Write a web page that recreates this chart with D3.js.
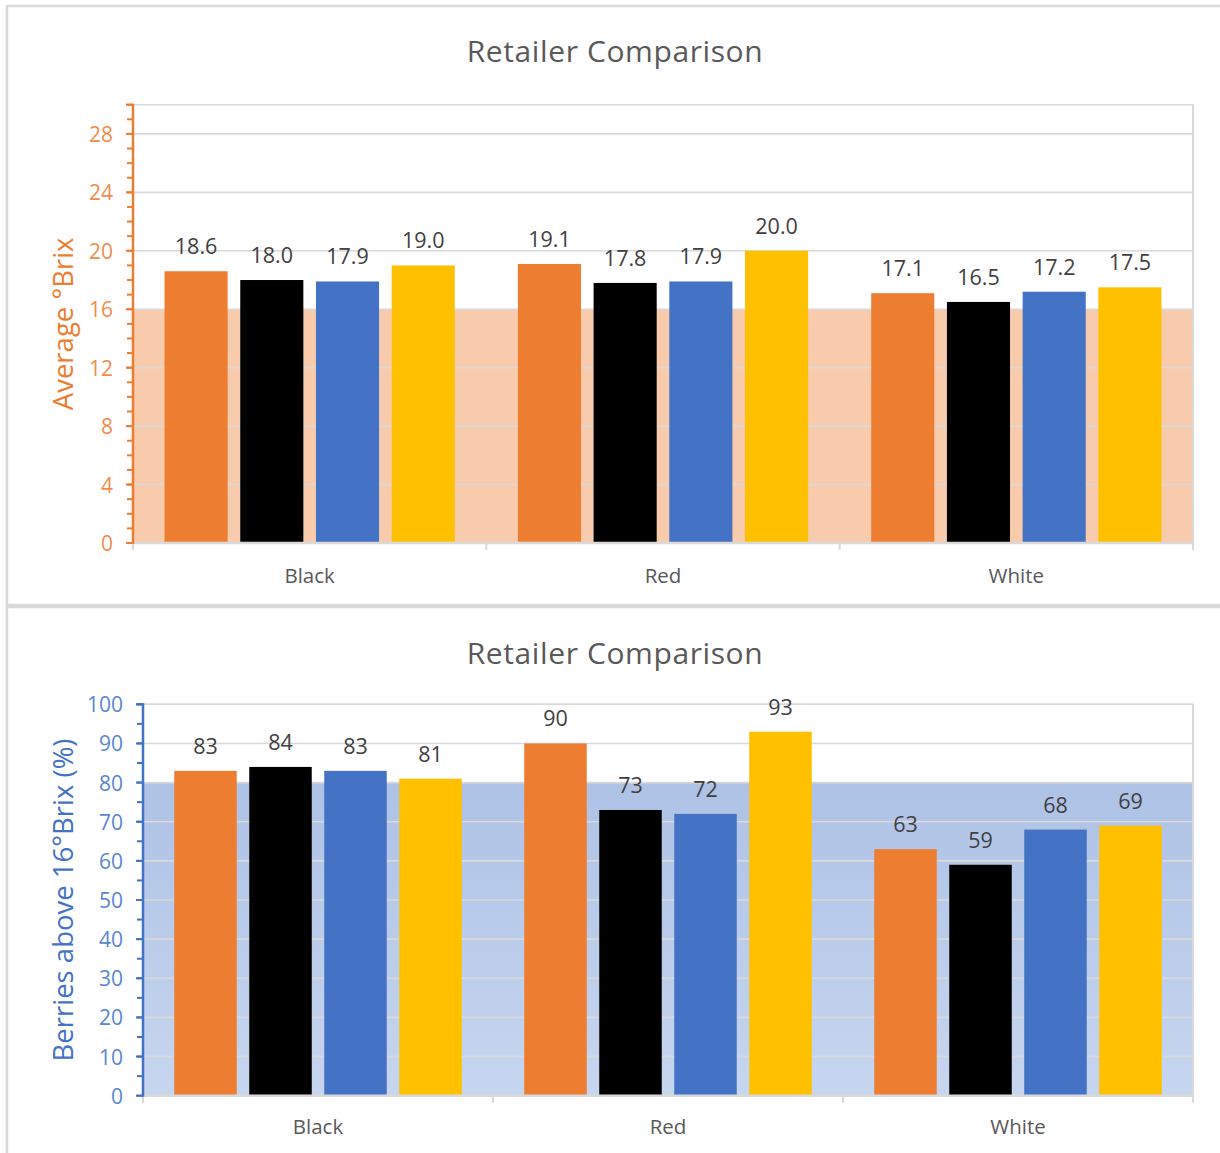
<!DOCTYPE html>
<html>
<head>
<meta charset="utf-8">
<script src="https://cdn.jsdelivr.net/npm/d3@7"></script>
<style>
  html, body { margin: 0; padding: 0; background: #fff; }
  svg { display: block; font-family: "Open Sans", "Noto Sans", sans-serif; }
</style>
</head>
<body>
<svg id="chart" width="1220" height="1153"></svg>
<script>
// Grape varieties and retailers
const categories = ["Black", "Red", "White"];
const retailers = ["Retailer A", "Retailer B", "Retailer C", "Retailer D"];
const retailerColors = ["#ED7D31", "#000000", "#4472C4", "#FFC000"];

// Average °Brix per variety, one value per retailer
const brixBlack = [18.6, 18.0, 17.9, 19.0];
const brixRed = [19.1, 17.8, 17.9, 20.0];
const brixWhite = [17.1, 16.5, 17.2, 17.5];

// Share of berries above 16 °Brix (%)
const pctBlack = [83, 84, 83, 81];
const pctRed = [90, 73, 72, 93];
const pctWhite = [63, 59, 68, 69];

// Axis ticks and threshold bands
const brixTicks = [0, 4, 8, 12, 16, 20, 24, 28];
const brixMax = 30;
const brixThreshold = 16;
const pctTicks = [0, 10, 20, 30, 40, 50, 60, 70, 80, 90, 100];
const pctMax = 100;
const pctThreshold = 80;

const svg = d3.select("#chart");
const grid = "#D9D9D9";

// Panel frames
svg.append("rect").attr("x", 7).attr("y", 6).attr("width", 1220).attr("height", 599)
  .attr("fill", "none").attr("stroke", grid).attr("stroke-width", 2.5);
svg.append("rect").attr("x", 7).attr("y", 607).attr("width", 1220).attr("height", 600)
  .attr("fill", "none").attr("stroke", grid).attr("stroke-width", 2.5);

function drawPanel(opt) {
  const g = svg.append("g");
  const x = d3.scaleBand().domain(categories).range([opt.left, opt.right]);
  const xs = d3.scaleBand().domain(retailers).range([0, x.bandwidth()])
    .paddingInner(1 / 6).paddingOuter(5 / 12);
  const y = d3.scaleLinear().domain([0, opt.max]).range([opt.bottom, opt.top]);

  // Threshold band
  const band = g.append("rect")
    .attr("x", opt.left).attr("width", opt.right - opt.left)
    .attr("y", y(opt.threshold)).attr("height", y(0) - y(opt.threshold));
  if (opt.bandGradient) {
    const id = "grad" + opt.key;
    const grad = svg.append("defs").append("linearGradient").attr("id", id)
      .attr("x1", 0).attr("y1", 0).attr("x2", 0).attr("y2", 1);
    grad.append("stop").attr("offset", "0%").attr("stop-color", opt.bandGradient[0]);
    grad.append("stop").attr("offset", "100%").attr("stop-color", opt.bandGradient[1]);
    band.attr("fill", `url(#${id})`);
  } else {
    band.attr("fill", opt.bandColor);
  }

  // Horizontal gridlines
  g.append("g").selectAll("line").data(opt.ticks.concat([opt.max])).join("line")
    .attr("x1", opt.left).attr("x2", opt.right)
    .attr("y1", d => y(d)).attr("y2", d => y(d))
    .attr("stroke", grid).attr("stroke-width", 1.6);
  // Right frame of plot area
  g.append("line").attr("x1", opt.right).attr("x2", opt.right)
    .attr("y1", y(opt.max)).attr("y2", y(0))
    .attr("stroke", grid).attr("stroke-width", 2);

  // Bars
  const groups = g.append("g").selectAll("g").data(categories).join("g")
    .attr("transform", c => `translate(${x(c)},0)`);
  groups.selectAll("rect").data((c, i) => opt.values[i].map((v, j) => ({ r: retailers[j], v, j })))
    .join("rect")
    .attr("x", d => xs(d.r)).attr("width", xs.bandwidth())
    .attr("y", d => y(d.v)).attr("height", d => y(0) - y(d.v))
    .attr("fill", d => retailerColors[d.j]);
  groups.selectAll("text").data((c, i) => opt.values[i].map((v, j) => ({ r: retailers[j], v, j })))
    .join("text")
    .attr("x", d => xs(d.r) + xs.bandwidth() / 2)
    .attr("y", d => y(d.v) - 17)
    .attr("text-anchor", "middle")
    .attr("font-size", 21.5).attr("fill", "#404040")
    .text(d => opt.fmt(d.v));

  // X axis line with category boundary ticks
  g.append("line").attr("x1", opt.left - 1).attr("x2", opt.right + 1)
    .attr("y1", y(0)).attr("y2", y(0)).attr("stroke", grid).attr("stroke-width", 2.5);
  g.append("g").selectAll("line").data(categories.map(c => x(c)).concat([opt.right])).join("line")
    .attr("x1", d => d).attr("x2", d => d)
    .attr("y1", y(0)).attr("y2", y(0) + 7)
    .attr("stroke", grid).attr("stroke-width", 2);
  g.append("g").selectAll("text").data(categories).join("text")
    .attr("x", c => x(c) + x.bandwidth() / 2)
    .attr("y", opt.catY)
    .attr("text-anchor", "middle").attr("dominant-baseline", "central")
    .attr("font-size", 20.5).attr("fill", "#595959")
    .text(c => c);

  // Y axis with minor ticks
  const minor = d3.range(0, opt.max + 1e-9, opt.minorStep);
  g.append("g").selectAll("line").data(minor).join("line")
    .attr("x1", opt.left - 6).attr("x2", opt.left)
    .attr("y1", d => y(d)).attr("y2", d => y(d))
    .attr("stroke", opt.axisColor).attr("stroke-width", 2);
  g.append("g").selectAll("line").data(opt.ticks.concat([opt.max])).join("line")
    .attr("x1", opt.left - 7).attr("x2", opt.left)
    .attr("y1", d => y(d)).attr("y2", d => y(d))
    .attr("stroke", opt.axisColor).attr("stroke-width", 2);
  g.append("line").attr("x1", opt.left).attr("x2", opt.left)
    .attr("y1", y(opt.max) - 1).attr("y2", y(0) + 1)
    .attr("stroke", opt.axisColor).attr("stroke-width", 2.5);
  g.append("g").selectAll("text").data(opt.ticks).join("text")
    .attr("x", opt.left - 20).attr("y", d => y(d))
    .attr("text-anchor", "end").attr("dominant-baseline", "central")
    .attr("font-size", 21).attr("fill", opt.labelColor)
    .text(d => d);

  // Axis title
  g.append("text")
    .attr("transform", `translate(${opt.titleX},${(y(0) + y(opt.max)) / 2}) rotate(-90)`)
    .attr("text-anchor", "middle").attr("dominant-baseline", "central")
    .attr("font-size", opt.yTitleSize).attr("fill", opt.axisColor)
    .text(opt.yTitle);

  // Chart title
  g.append("text").attr("x", 615).attr("y", opt.chartTitleY)
    .attr("text-anchor", "middle").attr("dominant-baseline", "central")
    .attr("font-size", 30).attr("letter-spacing", 0.6).attr("fill", "#595959")
    .text("Retailer Comparison");
}

drawPanel({
  key: "brix",
  left: 133, right: 1193, top: 104.7, bottom: 543,
  max: brixMax, ticks: brixTicks, minorStep: 1, threshold: brixThreshold,
  values: [brixBlack, brixRed, brixWhite],
  fmt: d3.format(".1f"),
  bandColor: "#F8CBAD",
  axisColor: "#ED7D31", labelColor: "#F08C4E",
  yTitle: "Average °Brix", yTitleSize: 27.5, titleX: 62,
  catY: 575, chartTitleY: 50
});

drawPanel({
  key: "pct",
  left: 143, right: 1193, top: 704.3, bottom: 1095.7,
  max: pctMax, ticks: pctTicks, minorStep: 5, threshold: pctThreshold,
  values: [pctBlack, pctRed, pctWhite],
  fmt: d3.format("d"),
  bandGradient: ["#AEC2E6", "#C7D6EF"],
  axisColor: "#4472C4", labelColor: "#5A86D2",
  yTitle: "Berries above 16°Brix (%)", yTitleSize: 27.5, titleX: 62,
  catY: 1126, chartTitleY: 652
});
</script>
</body>
</html>
